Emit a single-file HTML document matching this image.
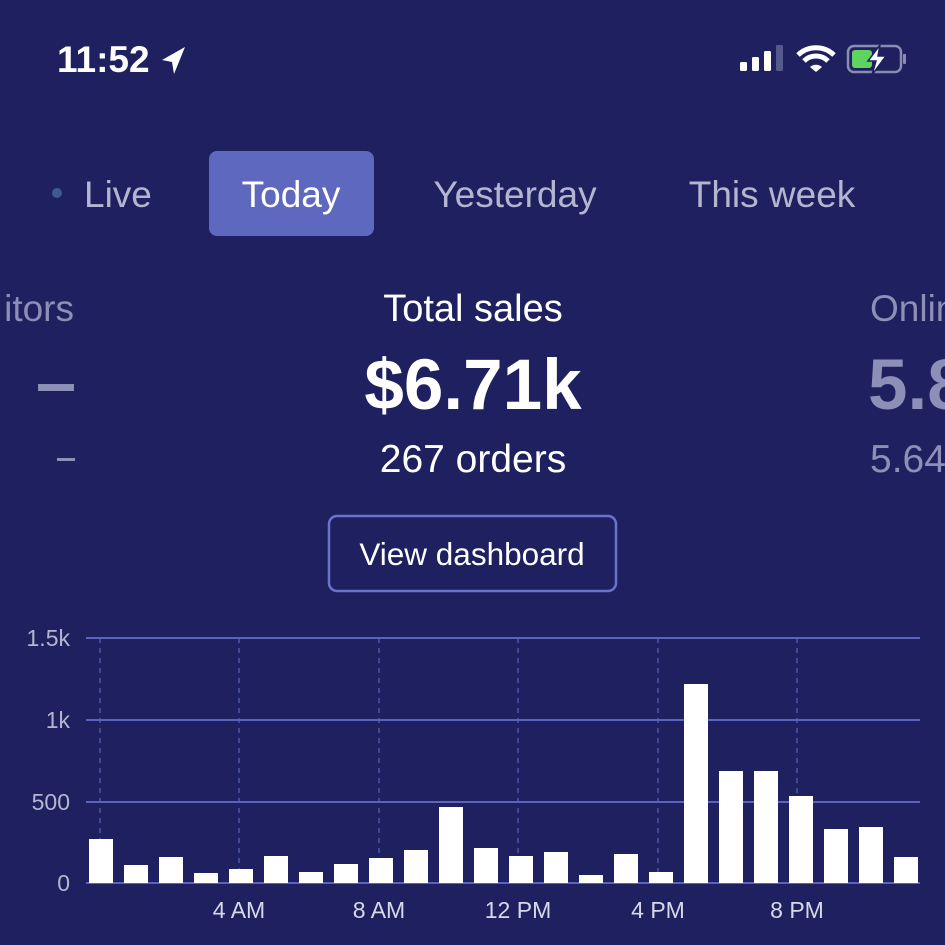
<!DOCTYPE html>
<html><head><meta charset="utf-8"><style>
html,body{margin:0;padding:0;background:#1e2060;}
svg{display:block;font-family:"Liberation Sans",sans-serif;}
</style></head><body>
<svg width="945" height="945" viewBox="0 0 945 945">
<rect width="945" height="945" fill="#1e2060"/>
<!-- status bar -->
<text x="57" y="72" font-size="37" font-weight="bold" fill="#fff">11:52</text>
<path d="M185 47 L162 60 L172 62 L174 74 Z" fill="#fff"/>
<rect x="740" y="62" width="7" height="9" rx="1.5" fill="#fff"/>
<rect x="752" y="57" width="7" height="14" rx="1.5" fill="#fff"/>
<rect x="764" y="51" width="7" height="20" rx="1.5" fill="#fff"/>
<rect x="776" y="45" width="7" height="26" rx="1.5" fill="#555a8e"/>
<path d="M798 55 A26 26 0 0 1 834 55" stroke="#fff" stroke-width="5" fill="none"/>
<path d="M804 61 A17 17 0 0 1 828 61" stroke="#fff" stroke-width="5" fill="none"/>
<path d="M810 67 L816 72 L822 67 A9 9 0 0 0 810 67Z" fill="#fff"/>
<rect x="848" y="46" width="53" height="26" rx="6" fill="none" stroke="#8a8db0" stroke-width="2.5"/>
<rect x="903" y="54" width="3" height="10" rx="1" fill="#8a8db0"/>
<rect x="852" y="50" width="20" height="18" rx="3" fill="#5fd35f"/>
<path d="M880 45 L868 61 L876 61 L872 75 L886 56 L878 56 Z" fill="#fff" stroke="#1e2060" stroke-width="1.5"/>
<!-- tabs -->
<circle cx="57" cy="193" r="5" fill="#3d5a8e"/>
<text x="84" y="207" font-size="37" fill="#b4b6d0">Live</text>
<rect x="209" y="151" width="165" height="85" rx="8" fill="#5e68be"/>
<text x="291" y="207" font-size="37" fill="#fff" text-anchor="middle">Today</text>
<text x="515" y="207" font-size="37" fill="#b4b6d0" text-anchor="middle">Yesterday</text>
<text x="772" y="207" font-size="37" fill="#b4b6d0" text-anchor="middle">This week</text>
<!-- stats -->
<text x="74" y="321" font-size="37" fill="#8c8fb6" text-anchor="end">itors</text>
<rect x="38" y="384" width="36" height="7" fill="#8c8fb6"/>
<rect x="57" y="458" width="18" height="3" fill="#8c8fb6"/>
<text x="473" y="321" font-size="38" fill="#fff" text-anchor="middle">Total sales</text>
<text x="473" y="409" font-size="71" font-weight="bold" fill="#fff" text-anchor="middle">$6.71k</text>
<text x="473" y="472" font-size="39" fill="#fff" text-anchor="middle">267 orders</text>
<text x="870" y="321" font-size="37" fill="#8c8fb6">Onlin</text>
<text x="868" y="409" font-size="71" font-weight="bold" fill="#8c8fb6">5.8</text>
<text x="870" y="472" font-size="39" fill="#8c8fb6">5.64</text>
<rect x="329" y="516" width="287" height="75" rx="8" fill="none" stroke="#6a74cc" stroke-width="2.5"/>
<text x="472" y="565" font-size="31.5" fill="#fff" text-anchor="middle">View dashboard</text>
<!-- chart -->
<g stroke="#5a63bd" stroke-width="1.2" stroke-dasharray="5,5">
<line x1="100" y1="638" x2="100" y2="883"/><line x1="239" y1="638" x2="239" y2="883"/>
<line x1="379" y1="638" x2="379" y2="883"/><line x1="518" y1="638" x2="518" y2="883"/>
<line x1="658" y1="638" x2="658" y2="883"/><line x1="797" y1="638" x2="797" y2="883"/>
</g>
<g stroke="#5a63bd" stroke-width="2">
<line x1="86" y1="638" x2="920" y2="638"/><line x1="86" y1="720" x2="920" y2="720"/>
<line x1="86" y1="802" x2="920" y2="802"/><line x1="86" y1="883" x2="920" y2="883"/>
</g>
<g font-size="23" fill="#b4b6d0" text-anchor="end">
<text x="70" y="646">1.5k</text><text x="70" y="728">1k</text><text x="70" y="810">500</text><text x="70" y="891">0</text>
</g>
<g font-size="23" fill="#d8d9e8" text-anchor="middle">
<text x="239" y="918">4 AM</text><text x="379" y="918">8 AM</text><text x="518" y="918">12 PM</text><text x="658" y="918">4 PM</text><text x="797" y="918">8 PM</text>
</g>
<g fill="#fff">
<rect x="89" y="839" width="24" height="44"/>
<rect x="124" y="865" width="24" height="18"/>
<rect x="159" y="857" width="24" height="26"/>
<rect x="194" y="873" width="24" height="10"/>
<rect x="229" y="869" width="24" height="14"/>
<rect x="264" y="856" width="24" height="27"/>
<rect x="299" y="872" width="24" height="11"/>
<rect x="334" y="864" width="24" height="19"/>
<rect x="369" y="858" width="24" height="25"/>
<rect x="404" y="850" width="24" height="33"/>
<rect x="439" y="807" width="24" height="76"/>
<rect x="474" y="848" width="24" height="35"/>
<rect x="509" y="856" width="24" height="27"/>
<rect x="544" y="852" width="24" height="31"/>
<rect x="579" y="875" width="24" height="8"/>
<rect x="614" y="854" width="24" height="29"/>
<rect x="649" y="872" width="24" height="11"/>
<rect x="684" y="684" width="24" height="199"/>
<rect x="719" y="771" width="24" height="112"/>
<rect x="754" y="771" width="24" height="112"/>
<rect x="789" y="796" width="24" height="87"/>
<rect x="824" y="829" width="24" height="54"/>
<rect x="859" y="827" width="24" height="56"/>
<rect x="894" y="857" width="24" height="26"/>
</g>
</svg>
</body></html>
